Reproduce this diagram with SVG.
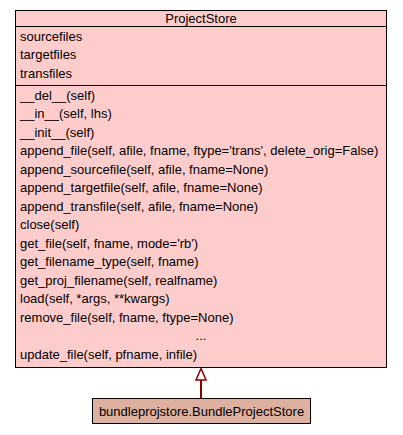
<svg xmlns="http://www.w3.org/2000/svg" width="403" height="435" viewBox="0 0 403 435">
<style>
text{font-family:"Liberation Sans",Arial,sans-serif;font-size:13px;fill:#000}
.box{fill:#ffcccc;stroke:#000;stroke-width:1}
.sep{stroke:#000;stroke-width:1}
.sub{fill:#deb0a0;stroke:#000;stroke-width:1}
.edge{stroke:#8b0000;stroke-width:2;fill:none}
.head{fill:#fff;stroke:#8b0000;stroke-width:1.5}
</style>
<rect width="403" height="435" fill="#fff"/>
<g id="ProjectStore">
<rect class="box" x="15.5" y="10.5" width="371" height="357"/>
<line class="sep" x1="15.5" y1="26.5" x2="386.5" y2="26.5"/>
<line class="sep" x1="15.5" y1="85.5" x2="386.5" y2="85.5"/>
<text x="201" y="22.5" text-anchor="middle">ProjectStore</text>
<text x="20" y="40.5">sourcefiles</text>
<text x="20" y="59">targetfiles</text>
<text x="20" y="77.5">transfiles</text>
<text x="20" y="99.5">__del__(self)</text>
<text x="20" y="118">__in__(self, lhs)</text>
<text x="20" y="136.5">__init__(self)</text>
<text x="20" y="155">append_file(self, afile, fname, ftype='trans', delete_orig=False)</text>
<text x="20" y="173.5">append_sourcefile(self, afile, fname=None)</text>
<text x="20" y="192">append_targetfile(self, afile, fname=None)</text>
<text x="20" y="210.5">append_transfile(self, afile, fname=None)</text>
<text x="20" y="229">close(self)</text>
<text x="20" y="247.5">get_file(self, fname, mode='rb')</text>
<text x="20" y="266">get_filename_type(self, fname)</text>
<text x="20" y="284.5">get_proj_filename(self, realfname)</text>
<text x="20" y="303">load(self, *args, **kwargs)</text>
<text x="20" y="321.5">remove_file(self, fname, ftype=None)</text>
<text x="201" y="340" text-anchor="middle">...</text>
<text x="20" y="358.5">update_file(self, pfname, infile)</text>
</g>
<g id="BundleProjectStore">
<rect class="sub" x="92.5" y="398.5" width="218" height="25"/>
<text x="201.5" y="415.5" text-anchor="middle">bundleprojstore.BundleProjectStore</text>
</g>
<g id="connectors">
<line class="edge" x1="201" y1="398" x2="201" y2="380"/>
<polygon class="head" points="201,368.5 196,380 206,380"/>
</g>
</svg>
